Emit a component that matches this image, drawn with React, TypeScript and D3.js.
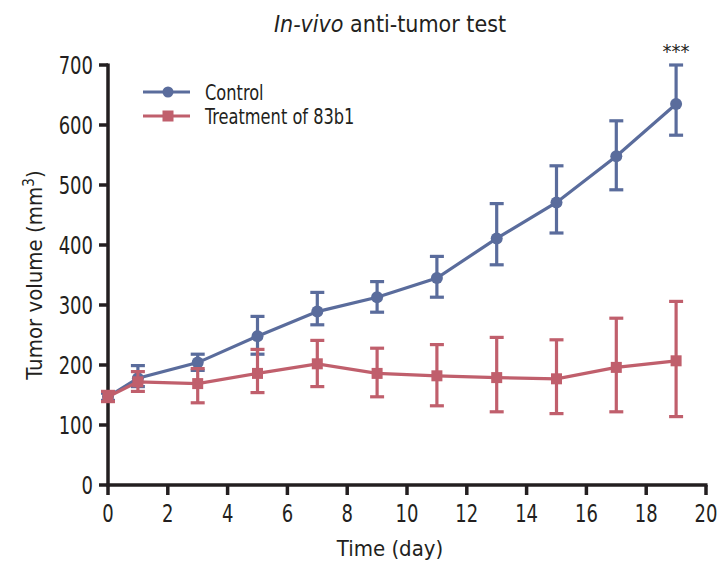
import React from "react";
import * as d3 from "d3";

const days = [0, 1, 3, 5, 7, 9, 11, 13, 15, 17, 19];
const controlMean = [147, 178, 204, 248, 289, 313, 345, 411, 471, 548, 635];
const controlLow = [141, 164, 191, 218, 267, 288, 313, 367, 420, 492, 583];
const controlHigh = [153, 199, 218, 281, 321, 339, 381, 469, 532, 607, 700];
const treatMean = [147, 172, 169, 186, 202, 186, 182, 179, 177, 196, 207];
const treatLow = [139, 156, 137, 154, 164, 147, 132, 122, 119, 122, 114];
const treatHigh = [156, 189, 194, 226, 241, 228, 234, 246, 242, 278, 306];
const xTicks = [0, 2, 4, 6, 8, 10, 12, 14, 16, 18, 20];
const yTicks = [0, 100, 200, 300, 400, 500, 600, 700];
const seriesNames = ["Control", "Treatment of 83b1"];

const BLUE = "#5a6c9c";
const RED = "#c05f6c";
const AXIS = "#231f20";
const FONT = "'Liberation Sans Narrow', 'DejaVu Sans Condensed', 'Roboto', sans-serif";

export default function App() {
  const W = 726, H = 574;
  const x = d3.scaleLinear().domain([0, 20]).range([108, 706]);
  const y = d3.scaleLinear().domain([0, 700]).range([485, 65]);
  const line = d3.line<number>().x((_, i) => x(days[i])).y((d) => y(d));

  const series = [
    { mean: controlMean, low: controlLow, high: controlHigh, color: BLUE, shape: "circle" },
    { mean: treatMean, low: treatLow, high: treatHigh, color: RED, shape: "square" },
  ];

  return (
    <svg width={W} height={H} style={{ display: "block", position: "absolute", left: 0, top: 0 }} fontFamily={FONT}>
      <rect width={W} height={H} fill="#fff" />
      {/* title */}
      <text x={390} y={32} textAnchor="middle" fontSize={23} fill={AXIS}>
        <tspan fontStyle="italic">In-vivo</tspan> anti-tumor test
      </text>
      {/* axes */}
      <line x1={x(0)} x2={x(0)} y1={y(700) - 1.5} y2={y(0) + 1.5} stroke={AXIS} strokeWidth={3.5} />
      <line x1={x(0) - 1.5} x2={x(20) + 1.5} y1={y(0)} y2={y(0)} stroke={AXIS} strokeWidth={3.5} />
      {yTicks.map((t) => (
        <g key={"y" + t}>
          <line x1={x(0) - 9} x2={x(0)} y1={y(t)} y2={y(t)} stroke={AXIS} strokeWidth={3.5} />
          <text transform={`translate(${x(0) - 15},${y(t)}) scale(0.8,1)`} dy="0.36em" textAnchor="end" fontSize={25} fill={AXIS}>{t}</text>
        </g>
      ))}
      {xTicks.map((t) => (
        <g key={"x" + t}>
          <line x1={x(t)} x2={x(t)} y1={y(0)} y2={y(0) + 10} stroke={AXIS} strokeWidth={3.5} />
          <text transform={`translate(${x(t)},${y(0) + 37}) scale(0.8,1)`} textAnchor="middle" fontSize={25} fill={AXIS}>{t}</text>
        </g>
      ))}
      <text x={390} y={556} textAnchor="middle" fontSize={22} fill={AXIS}>Time (day)</text>
      <text transform={`translate(42,${y(350)}) rotate(-90)`} textAnchor="middle" fontSize={22} fill={AXIS}>
        Tumor volume (mm<tspan dy={-8} fontSize={15}>3</tspan><tspan dy={8}>)</tspan>
      </text>
      {/* series */}
      {series.map((s, k) => (
        <g key={k}>
          {s.mean.map((m, i) => (
            <g key={i} stroke={s.color} strokeWidth={3.2}>
              <line x1={x(days[i])} x2={x(days[i])} y1={y(s.low[i])} y2={y(s.high[i])} />
              <line x1={x(days[i]) - 7} x2={x(days[i]) + 7} y1={y(s.low[i])} y2={y(s.low[i])} />
              <line x1={x(days[i]) - 7} x2={x(days[i]) + 7} y1={y(s.high[i])} y2={y(s.high[i])} />
            </g>
          ))}
          <path d={line(s.mean) || ""} fill="none" stroke={s.color} strokeWidth={3.2} />
          {s.mean.map((m, i) =>
            s.shape === "circle" ? (
              <circle key={i} cx={x(days[i])} cy={y(m)} r={6} fill={s.color} />
            ) : (
              <rect key={i} x={x(days[i]) - 5.5} y={y(m) - 5.5} width={11} height={11} fill={s.color} />
            )
          )}
        </g>
      ))}
      <text x={x(19)} y={58} textAnchor="middle" fontSize={20} fill={AXIS}>***</text>
      {/* legend */}
      {seriesNames.map((n, k) => {
        const ly = 92 + k * 24;
        const c = k === 0 ? BLUE : RED;
        return (
          <g key={n}>
            <line x1={143} x2={190} y1={ly} y2={ly} stroke={c} strokeWidth={3.2} />
            {k === 0 ? (
              <circle cx={168} cy={ly} r={5.5} fill={c} />
            ) : (
              <rect x={162.5} y={ly - 5.5} width={11} height={11} fill={c} />
            )}
            <text transform={`translate(205,${ly}) scale(0.82,1)`} dy="0.36em" fontSize={22} fill={AXIS}>{n}</text>
          </g>
        );
      })}
    </svg>
  );
}
